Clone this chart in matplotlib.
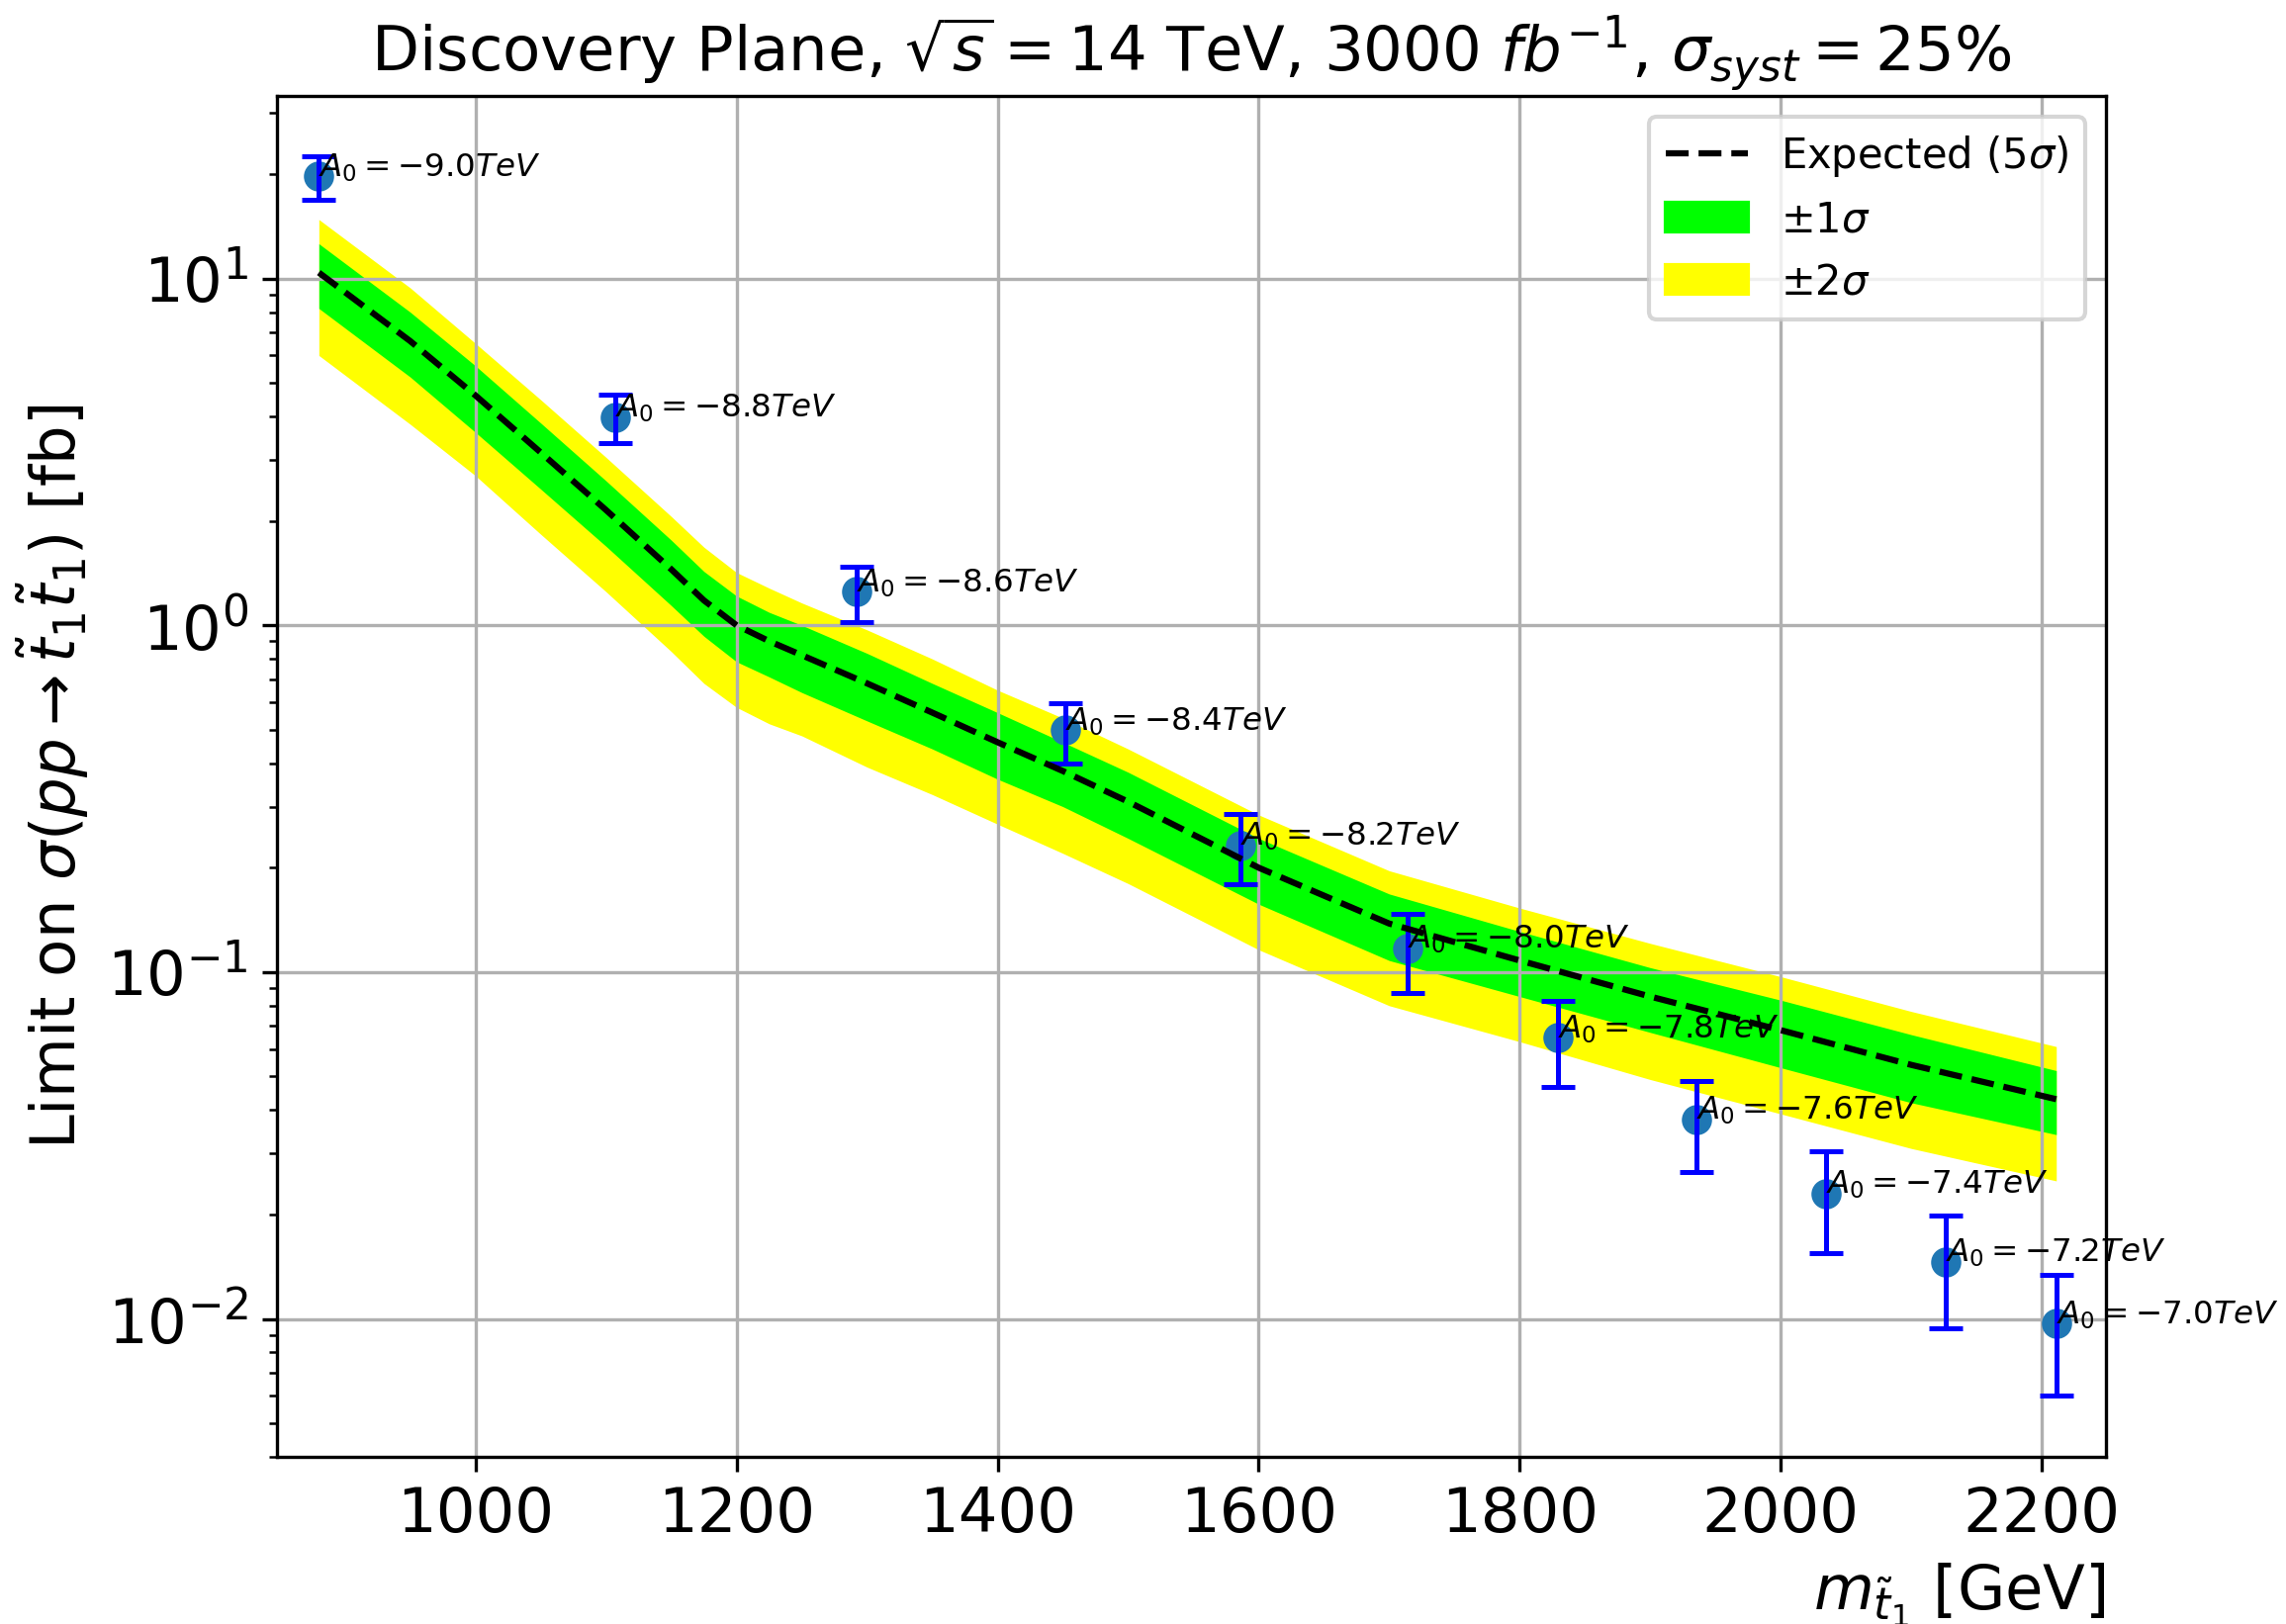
import matplotlib
matplotlib.use("Agg")
import matplotlib.pyplot as plt
from matplotlib.lines import Line2D
from matplotlib.patches import Patch

# stop mass grid for the expected 5 sigma discovery reach
m_exp = [880, 950, 1000, 1050, 1100, 1150, 1175, 1200, 1225, 1250, 1300, 1350,
         1400, 1450, 1500, 1600, 1700, 1800, 1900, 2000, 2100, 2211]
sig_exp = [10.4, 6.6, 4.6, 3.15, 2.15, 1.45, 1.18, 1.0, 0.9, 0.82, 0.68, 0.56,
           0.46, 0.38, 0.31, 0.20, 0.138, 0.108, 0.085, 0.068, 0.054, 0.043]
# +-1 sigma band
band1_hi = [12.6, 8.0, 5.6, 3.83, 2.61, 1.76, 1.43, 1.215, 1.09, 1.0, 0.83, 0.68,
            0.56, 0.46, 0.377, 0.243, 0.168, 0.131, 0.103, 0.083, 0.066, 0.052]
band1_lo = [8.2, 5.2, 3.6, 2.47, 1.69, 1.14, 0.93, 0.785, 0.71, 0.64, 0.53, 0.44,
            0.36, 0.30, 0.243, 0.157, 0.108, 0.085, 0.067, 0.053, 0.042, 0.034]
# +-2 sigma band
band2_hi = [14.8, 9.4, 6.5, 4.47, 3.05, 2.06, 1.68, 1.42, 1.28, 1.16, 0.97, 0.80,
            0.65, 0.54, 0.44, 0.284, 0.196, 0.153, 0.121, 0.097, 0.077, 0.061]
band2_lo = [6.0, 3.8, 2.7, 1.83, 1.25, 0.84, 0.68, 0.58, 0.52, 0.48, 0.39, 0.325,
            0.267, 0.22, 0.18, 0.116, 0.080, 0.063, 0.049, 0.039, 0.031, 0.025]

# signal benchmark points (one per A0 value)
m_pts = [880, 1107, 1292, 1452, 1586, 1714, 1829, 1935, 2035, 2126, 2211]
xsec_pts = [19.7, 3.99, 1.25, 0.498, 0.232, 0.117, 0.0647, 0.0376, 0.023, 0.0146, 0.0097]
xsec_err = [2.8, 0.64, 0.23, 0.099, 0.053, 0.030, 0.018, 0.011, 0.0075, 0.0052, 0.0037]
a0_vals = ["-9.0", "-8.8", "-8.6", "-8.4", "-8.2", "-8.0", "-7.8", "-7.6", "-7.4", "-7.2", "-7.0"]

fig = plt.figure(figsize=(2311 / 300, 1642 / 300), dpi=300)
ax = fig.add_axes([0.1212, 0.1029, 0.8, 0.838])

ax.fill_between(m_exp, band2_lo, band2_hi, color="yellow", lw=0)
ax.fill_between(m_exp, band1_lo, band1_hi, color="lime", lw=0)
ax.plot(m_exp, sig_exp, "k--", lw=1.5, zorder=2.2)

ax.scatter(m_pts, xsec_pts, s=40, color="C0", zorder=2)
ax.errorbar(m_pts, xsec_pts, yerr=xsec_err, fmt="none", ecolor="blue",
            elinewidth=1.2, capsize=4, capthick=1.2, zorder=2.1)
for m, xs, a0 in zip(m_pts, xsec_pts, a0_vals):
    ax.text(m, xs, r"$A_0 = %s TeV$" % a0, fontsize=7.8, zorder=3)

ax.set_yscale("log")
ax.set_xlim(848, 2249)
ax.set_ylim(4.0e-3, 33.6)
ax.grid(True)
ax.tick_params(axis="both", labelsize=15)

ax.set_title(r"Discovery Plane, $\sqrt{s} = 14$ TeV, 3000 $fb^{-1}$, $\sigma_{syst} = 25\%$",
             fontsize=15)
ax.set_ylabel(r"Limit on $\sigma(pp \rightarrow \tilde{t}_1 \tilde{t}_1)$ [fb]", fontsize=15)
ax.set_xlabel(r"$m_{\tilde{t}_1}$ [GeV]", fontsize=15, loc="right")

handles = [Line2D([], [], color="k", ls="--", lw=1.5),
           Patch(color="lime"), Patch(color="yellow")]
labels = [r"Expected (5$\sigma$)", r"$\pm1\sigma$", r"$\pm2\sigma$"]
ax.legend(handles, labels, loc="upper right", fontsize=10)

fig.savefig("out.png", dpi=300)
